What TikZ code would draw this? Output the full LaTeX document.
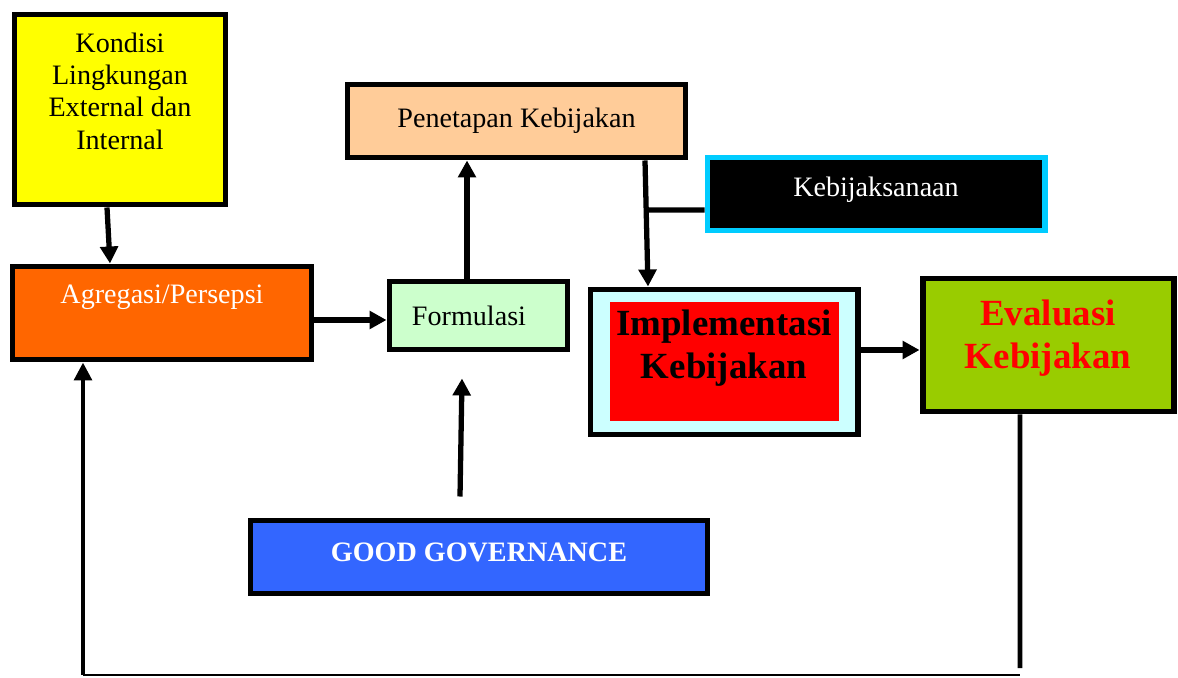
\documentclass[tikz,border=0pt]{standalone}
\usepackage{fontspec}
\setmainfont{Liberation Serif}
\usepackage{xcolor}
\usepackage{tikz}
\usetikzlibrary{arrows.meta, positioning}
\definecolor{kondyellow}{HTML}{FFFF00}
\definecolor{aggorange}{HTML}{FF6600}
\definecolor{formgreen}{HTML}{CCFFCC}
\definecolor{penpeach}{HTML}{FFCC99}
\definecolor{kebcyan}{HTML}{00CCFF}
\definecolor{implcyan}{HTML}{CCFFFF}
\definecolor{evalgreen}{HTML}{99CC00}
\definecolor{ggblue}{HTML}{3366FF}
\tikzstyle{arrow}  = [line width=3pt, -{Triangle[length=0.34cm, width=0.35cm]}]
\tikzstyle{link}   = [line width=3pt]
\tikzstyle{fback}  = [line width=2.8pt]
\tikzstyle{fbase}  = [line width=1.2pt]
\tikzstyle{block}  = [rectangle, draw, line width=3.4pt, inner sep=0pt]
\tikzstyle{txt}    = [font=\fontsize{16}{18.4}\selectfont]
\tikzstyle{bigtxt} = [font=\fontsize{21}{24.5}\selectfont\bfseries]
\tikzset{every node/.style={align=center}}

\begin{document}
\begin{tikzpicture}
    \useasboundingbox (0, 0) rectangle (23.56, 13.54);

    \node (kond)    at (2.40, 11.35) [block, fill=kondyellow, minimum width=4.22cm, minimum height=3.80cm] {};
    \node (kondtxt) at ([yshift=0.37cm]kond.center) [txt] {Kondisi\\Lingkungan\\External dan\\Internal};
    \node (agg)     at (3.24, 7.28)  [block, fill=aggorange, minimum width=5.98cm, minimum height=1.86cm] {};
    \node (aggtxt)  at ([yshift=0.32cm]agg.center) [txt, text=white] {Agregasi/Persepsi};
    \node (form)    at (9.57, 7.23)  [block, fill=formgreen, minimum width=3.56cm, minimum height=1.36cm] {};
    \node (formtxt) at ([xshift=-0.19cm]form.center) [txt] {Formulasi};
    \node (pen)     at (10.33, 11.12) [block, fill=penpeach, minimum width=6.76cm, minimum height=1.46cm, txt]
          {Penetapan Kebijakan};
    \node (keb)     at (17.52, 9.66) [block, draw=kebcyan, fill=black, minimum width=6.74cm, minimum height=1.46cm] {};
    \node (kebtxt)  at ([yshift=0.08cm]keb.center) [txt, text=white] {Kebijaksanaan};
    \node (impl)    at (14.48, 6.30) [block, fill=implcyan, minimum width=5.34cm, minimum height=2.90cm] {};
    \node (implred) at (impl.center) [fill=red, inner sep=0pt, minimum width=4.58cm, minimum height=2.38cm] {};
    \node (impltxt) at ([yshift=0.28cm]impl.center) [bigtxt] {Implementasi\\Kebijakan};
    \node (eval)    at (20.96, 6.64) [block, fill=evalgreen, minimum width=5.02cm, minimum height=2.66cm] {};
    \node (evaltxt) at ([yshift=0.13cm]eval.center) [bigtxt, text=red] {Evaluasi\\Kebijakan};
    \node (gg)      at (9.58, 2.40)  [block, fill=ggblue, minimum width=9.14cm, minimum height=1.46cm] {};
    \node (ggtxt)   at ([yshift=0.10cm]gg.center) [txt, text=white] {\bfseries GOOD GOVERNANCE};

    \coordinate (kebjoin) at (12.95, 9.34);
    \coordinate (fbr)     at (20.40, 0.18);
    \coordinate (fbl)     at (1.66, 0.04);

    \draw [arrow] ([xshift=-0.26cm]kond.south) -- ([xshift=-1.04cm]agg.north);
    \draw [arrow] ([yshift=-0.14cm]agg.east) -- ([yshift=-0.14cm]agg.east -| form.west);
    \draw [arrow] ([xshift=-0.23cm]form.north) -- ([xshift=-0.23cm]form.north |- pen.south);
    \draw [arrow] ([xshift=2.57cm]pen.south) -- ([xshift=-1.52cm]impl.north);
    \draw [link]  ([yshift=-0.32cm]keb.west) -- (kebjoin);
    \draw [arrow] ([xshift=-0.38cm, yshift=0.42cm]gg.north) -- ([xshift=-0.33cm, yshift=-0.52cm]form.south);
    \draw [arrow] ([yshift=0.24cm]impl.east) -- ([yshift=0.24cm]impl.east -| eval.west);
    \draw [fback] ([xshift=-0.56cm]eval.south) -- (fbr);
    \draw [fbase] (fbl) -- (fbr |- fbl);
    \draw [fback, -{Triangle[length=0.36cm, width=0.35cm]}] (fbl) -- (fbl |- agg.south);
\end{tikzpicture}
\end{document}
